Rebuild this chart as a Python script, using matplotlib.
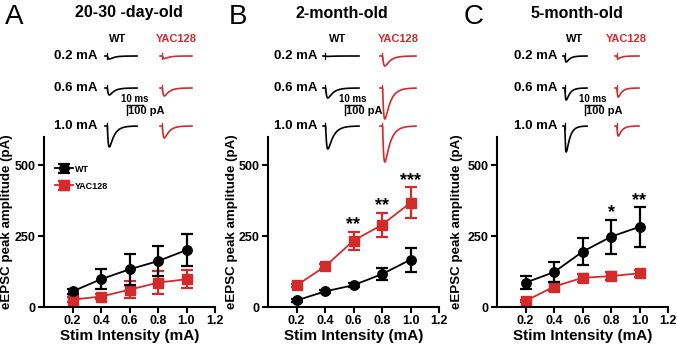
import numpy as np
import matplotlib
matplotlib.use("Agg")
import matplotlib.pyplot as plt

plt.rcParams['font.family'] = ['Liberation Sans', 'DejaVu Sans']

RED = '#d22b2b'

# stimulus intensities (mA)
stim = [0.2, 0.4, 0.6, 0.8, 1.0]

# eEPSC peak amplitude (pA), mean and SEM, per age group
wt_a = [55, 98, 133, 162, 201]
wt_a_err = [8, 36, 54, 54, 57]
yac_a = [26, 37, 61, 86, 98]
yac_a_err = [8, 10, 30, 40, 32]

wt_b = [23, 55, 77, 116, 167]
wt_b_err = [5, 6, 6, 22, 42]
yac_b = [76, 143, 234, 290, 368]
yac_b_err = [6, 10, 32, 43, 55]

wt_c = [86, 123, 195, 248, 283]
wt_c_err = [24, 35, 47, 60, 70]
yac_c = [21, 72, 103, 109, 119]
yac_c_err = [5, 15, 15, 15, 12]

# significance marks (index into stim) per panel
sig_a = {}
sig_b = {2: '**', 3: '**', 4: '***'}
sig_c = {3: '*', 4: '**'}

titles = ['20-30 -day-old', '2-month-old', '5-month-old']
letters = ['A', 'B', 'C']
trace_rows = ['0.2 mA', '0.6 mA', '1.0 mA']

# example trace peak amplitudes (pA) for 0.2 / 0.6 / 1.0 mA
trace_wt_a = [30, 70, 210]
trace_yac_a = [25, 80, 120]
trace_wt_b = [4, 100, 230]
trace_yac_b = [100, 310, 360]
trace_wt_c = [60, 120, 260]
trace_yac_c = [25, 90, 100]

fig = plt.figure(figsize=(6.77, 3.49), dpi=100)

W, H = 677.0, 349.0
ax_left = [44, 268, 497]
ax_w = 171
ylab_x = [13, 238, 463]

panels = [
    (wt_a, wt_a_err, yac_a, yac_a_err, sig_a),
    (wt_b, wt_b_err, yac_b, yac_b_err, sig_b),
    (wt_c, wt_c_err, yac_c, yac_c_err, sig_c),
]

axes = []
for i, (wt, wte, yac, yace, sig) in enumerate(panels):
    ax = fig.add_axes([ax_left[i] / W, 42 / H, ax_w / W, 170 / H])
    ax.errorbar(stim, wt, yerr=wte, color='black', marker='o', ms=6.8,
                lw=1.3, elinewidth=1.6, capsize=4, capthick=1.6,
                label='WT', zorder=3, clip_on=False)
    ax.errorbar(stim, yac, yerr=yace, color=RED, marker='s', ms=6.5,
                lw=1.3, elinewidth=1.6, capsize=4, capthick=1.6,
                label='YAC128', zorder=2, clip_on=False)
    for k, s in sig.items():
        top = max(wt[k] + wte[k], yac[k] + yace[k])
        ax.text(stim[k], top + 8, s, ha='center', va='baseline',
                fontsize=13, fontweight='bold')
    ax.set_xlim(0, 1.2)
    ax.set_ylim(0, 600)
    ax.set_xticks([0.2, 0.4, 0.6, 0.8, 1.0, 1.2])
    ax.set_xticklabels(['0.2', '0.4', '0.6', '0.8', '1.0', '1.2'])
    ax.set_yticks([0, 250, 500])
    for sp in ['top', 'right']:
        ax.spines[sp].set_visible(False)
    for sp in ['left', 'bottom']:
        ax.spines[sp].set_linewidth(1.5)
    ax.tick_params(width=1.5, length=4, labelsize=9, pad=2)
    for lab in ax.get_xticklabels() + ax.get_yticklabels():
        lab.set_fontweight('bold')
    ax.set_xlabel('Stim Intensity (mA)', fontsize=11, fontweight='bold', labelpad=1)
    ax.set_ylabel('eEPSC peak amplitude (pA)', fontsize=9.6, fontweight='bold')
    ax.yaxis.set_label_coords((ylab_x[i] - ax_left[i]) / ax_w, 0.5)
    ax.patch.set_alpha(0)
    axes.append(ax)

axes[0].legend(loc='upper left', bbox_to_anchor=(0.03, 0.87), frameon=False,
               prop={'weight': 'bold', 'size': 6.5}, handlelength=2.0,
               labelspacing=0.9, handletextpad=0.3, borderaxespad=0.2)

# overlay in pixel coordinates for titles and example traces
ov = fig.add_axes([0, 0, 1, 1], zorder=5)
ov.set_xlim(0, W)
ov.set_ylim(H, 0)
ov.axis('off')

letter_x = [14, 238, 474]
title_x = [129, 342, 577]
row_right = [98, 318, 557]
wt_x = [105, 323, 563]
yac_x = [160, 380, 615]
wt_lab_x = [118, 338, 575]
yac_lab_x = [176, 398, 626]
scale_x = [127, 345, 585]
row_y = [56, 88, 126]
trace_len = [32, 36, 24]

trace_sets = [(trace_wt_a, trace_yac_a), (trace_wt_b, trace_yac_b),
              (trace_wt_c, trace_yac_c)]

px_per_pa = 0.1
t = np.linspace(0, 20, 300)


def epsc(amp, t):
    # simple EPSC template scaled to the peak amplitude
    shape = np.exp(-(t - 1.5) / 3.0) - np.exp(-(t - 1.5) / 0.6)
    shape[t < 1.5] = 0
    shape = shape / shape.max()
    return amp * shape


for i in range(3):
    ov.text(letter_x[i], 17, letters[i], fontsize=20, ha='center', va='center')
    ov.text(title_x[i], 13, titles[i], fontsize=11.5, fontweight='bold',
            ha='center', va='center')
    ov.text(wt_lab_x[i], 39, 'WT', fontsize=8, fontweight='bold',
            ha='center', va='center')
    ov.text(yac_lab_x[i], 39, 'YAC128', fontsize=8, fontweight='bold',
            ha='center', va='center', color=RED)
    wts, yacs = trace_sets[i]
    for r in range(3):
        ov.text(row_right[i], row_y[r], trace_rows[r], fontsize=9.5,
                fontweight='bold', ha='right', va='center')
        for x0, amp, col in [(wt_x[i], wts[r], 'black'), (yac_x[i], yacs[r], RED)]:
            xs = x0 + t / 20 * trace_len[i]
            ys = row_y[r] + epsc(amp, t) * px_per_pa
            ov.plot(xs, ys, color=col, lw=1.2)
            # stimulus artifact
            ov.plot([x0 + 2, x0 + 2], [row_y[r] - 3, row_y[r] + 3], color=col, lw=0.9)
    # scale bar: 10 ms / 100 pA
    sx = scale_x[i]
    sy = 105
    ov.plot([sx, sx + 16], [sy, sy], color='black', lw=1)
    ov.plot([sx, sx], [sy, sy + 100 * px_per_pa], color='black', lw=1)
    ov.text(sx + 8, sy - 1, '10 ms', fontsize=7, fontweight='bold',
            ha='center', va='bottom')
    ov.text(sx + 1.5, sy + 6, '100 pA', fontsize=8, fontweight='bold',
            ha='left', va='center')

fig.savefig('out.png', dpi=100)
